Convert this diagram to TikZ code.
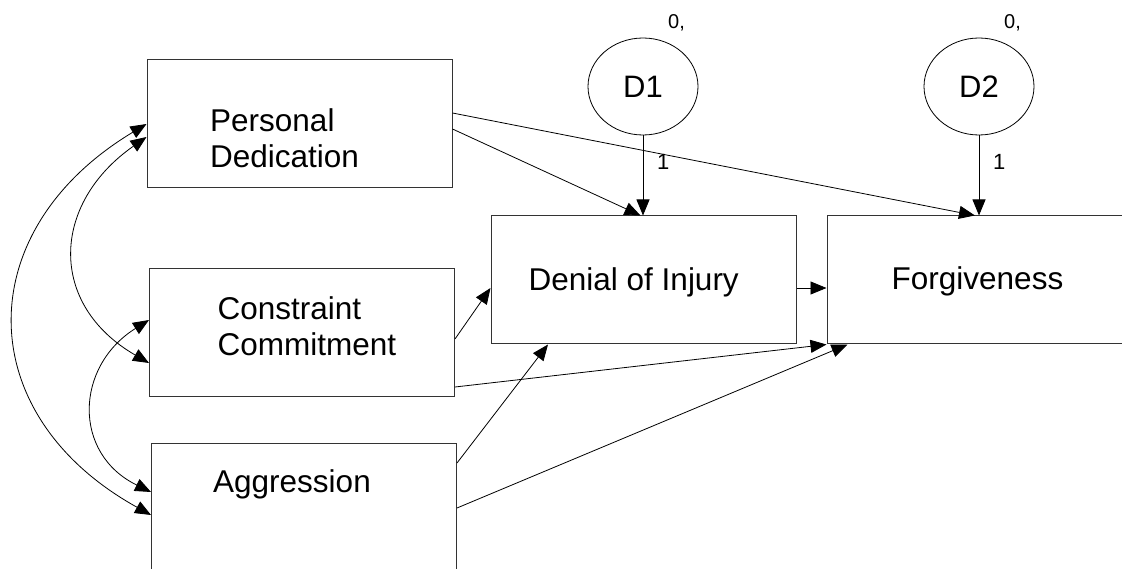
\documentclass[tikz,border=0pt]{standalone}
\usepackage{fontspec}
\setmainfont{Liberation Sans}
\usetikzlibrary{shapes.geometric,arrows.meta,positioning}

\begin{document}
\begin{tikzpicture}[x=1pt, y=1pt,
  box/.style = {draw=black!80, line width=1pt, minimum width=305pt,
    minimum height=128pt, inner sep=0pt},
  err/.style = {ellipse, draw, line width=0.8pt, minimum width=110pt,
    minimum height=97pt, inner sep=0pt, font=\fontsize{31}{36}\selectfont},
  txt/.style = {anchor=base west, align=left, inner sep=0pt,
    font=\fontsize{31.5}{36}\selectfont},
  varlbl/.style = {anchor=base west, inner sep=0pt, font=\fontsize{20}{24}\selectfont},
  wlbl/.style = {anchor=base west, inner sep=0pt, font=\fontsize{22}{26}\selectfont},
  arr/.style = {line width=0.8pt, -{Triangle[length=16pt,width=13pt]}},
  cov/.style = {line width=0.8pt,
    {Triangle[length=16pt,width=13pt]}-{Triangle[length=16pt,width=13pt]}}]
  \useasboundingbox (0,0) rectangle (1122,568);
  \clip (0,0) rectangle (1122,568);

  % boxes
  \node[box] (pd) at (299.5,444) {};
  \node[box] (cc) at (302,235) {};
  \node[box] (agg) at (304,60) {};
  \node[box] (den) at (643.5,288) {};
  \node[box] (forg) at (979.5,288) {};
  % base of a two-line node is its last line
  \node[txt] (pdtxt) at (210,400) {Personal\\Dedication};
  \node[txt] (cctxt) at (217.5,212) {Constraint\\Commitment};
  \node[txt] (aggtxt) at (213,76) {Aggression};
  \node[txt] (dentxt) at (528.5,277) {Denial of Injury};
  \node[txt] (forgtxt) at (891.5,278) {Forgiveness};

  % disturbances
  \node[err] (d1) at (643,481.5) {D1};
  \node[err] (d2) at (979,481.5) {D2};
  \node[varlbl] (d1var) at ([xshift=25pt,yshift=57.5pt]d1.center) {0,};
  \node[varlbl] (d2var) at ([xshift=25pt,yshift=57.5pt]d2.center) {0,};
  \node[wlbl] (d1w) at ([xshift=14pt,yshift=-34pt]d1.south) {1};
  \node[wlbl] (d2w) at ([xshift=14pt,yshift=-34pt]d2.south) {1};

  \draw[arr] (d1.south) -- (d1.south |- den.north);
  \draw[arr] (d2.south) -- (d2.south |- forg.north);

  % paths
  \draw[arr] ([yshift=-5pt]pd.east) -- ([xshift=-3pt]den.north);
  \draw[arr] ([yshift=11pt]pd.east) -- ([xshift=-4.5pt]forg.north);
  \draw[arr] ([yshift=-6pt]cc.east) -- ([yshift=-8pt]den.west);
  \draw[arr] ([yshift=-54pt]cc.east) -- (forg.south west);
  \draw[arr] ([yshift=45pt]agg.east) -- ([xshift=-95.5pt]den.south);
  \draw[arr] (agg.east) -- ([xshift=21pt]forg.south west);
  \draw[arr] ([yshift=-8pt]den.east) -- ([yshift=-8pt]den.east -| forg.west);

  % covariances
  \draw[cov] ([yshift=-13pt]pd.west) to[out=215, in=150, looseness=1.32] ([yshift=-30pt]cc.west);
  \draw[cov] (pd.west) to[out=211, in=151, looseness=1.35] ([yshift=-7pt]agg.west);
  \draw[cov] ([yshift=13pt]cc.west) to[out=212, in=154, looseness=1.3] ([yshift=16pt]agg.west);
\end{tikzpicture}
\end{document}
